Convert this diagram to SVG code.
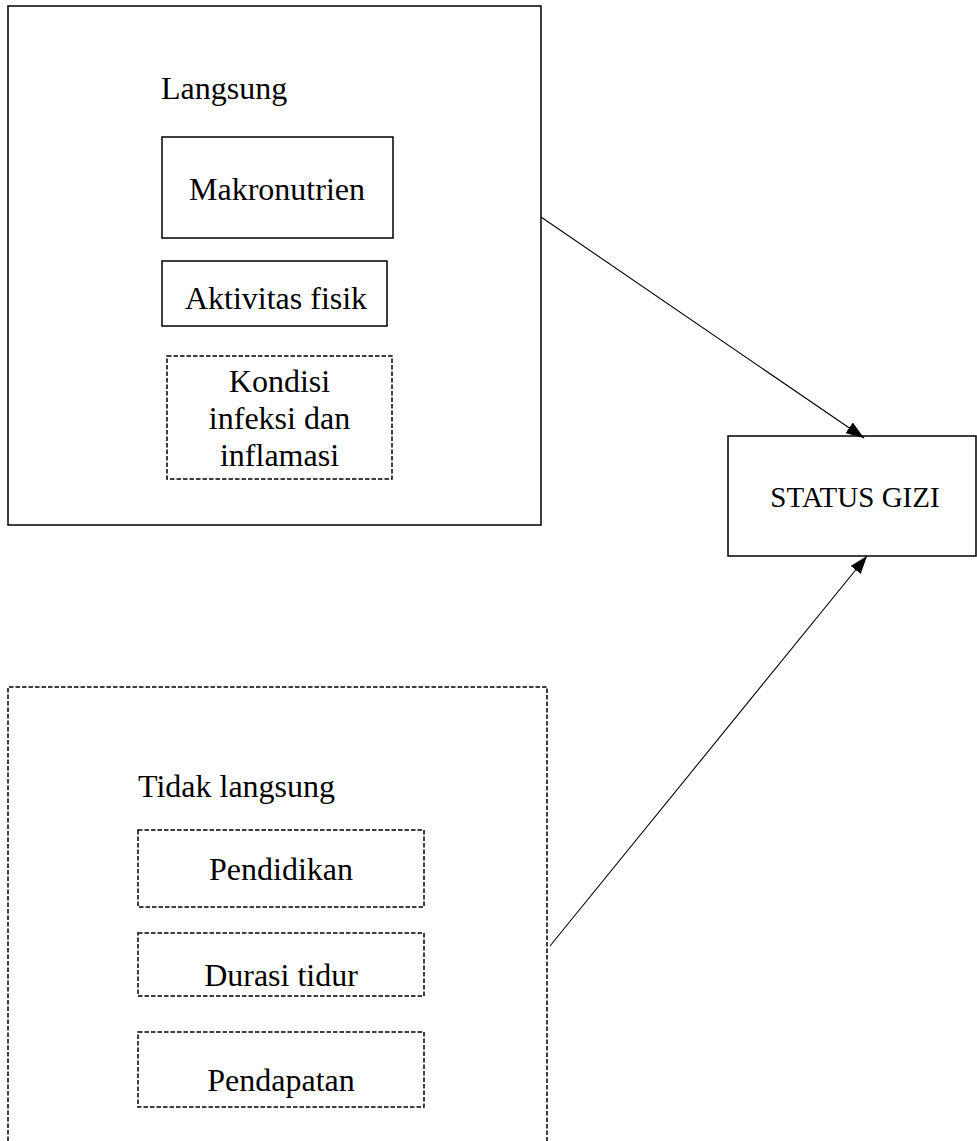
<svg xmlns="http://www.w3.org/2000/svg" width="977" height="1141" viewBox="0 0 977 1141">
  <style>
    .solid { fill: none; stroke: #000; stroke-width: 1.5; }
    .dash { fill: none; stroke: #000; stroke-width: 1.5; stroke-dasharray: 4.5 2; }
    .t { font-family: "Liberation Serif", "Times New Roman", serif; font-size: 32px; fill: #000; }
    .c { text-anchor: middle; }
    .conn { stroke: #000; stroke-width: 1.1; fill: none; }
  </style>
  <defs>
    <marker id="arrow" viewBox="0 0 18 13" refX="18" refY="6.5" markerWidth="18" markerHeight="13" markerUnits="userSpaceOnUse" orient="auto">
      <path d="M0,0 L18,6.5 L0,13 Z" fill="#000"/>
    </marker>
  </defs>
  <rect width="977" height="1141" fill="#fff"/>

  <g id="langsung">
    <rect class="solid" x="8" y="6" width="533" height="519"/>
    <text class="t" x="161" y="99">Langsung</text>
  </g>
  <g id="makronutrien">
    <rect class="solid" x="162" y="137" width="231" height="101"/>
    <text class="t c" x="277" y="200">Makronutrien</text>
  </g>
  <g id="aktivitas">
    <rect class="solid" x="162" y="261" width="225" height="65"/>
    <text class="t c" x="276" y="309">Aktivitas fisik</text>
  </g>
  <g id="kondisi">
    <rect class="dash" x="167" y="356" width="225" height="123"/>
    <text class="t c" x="279.5" y="392">Kondisi</text>
    <text class="t c" x="279.5" y="429">infeksi dan</text>
    <text class="t c" x="279.5" y="466">inflamasi</text>
  </g>

  <g id="status-gizi">
    <rect class="solid" x="728" y="436" width="248" height="120"/>
    <text class="t c" x="855" y="507" style="font-size:29px">STATUS GIZI</text>
  </g>

  <g id="tidak-langsung">
    <path class="dash" d="M8,1141 V687 H547 V1141"/>
    <text class="t" x="138" y="797">Tidak langsung</text>
  </g>
  <g id="pendidikan">
    <rect class="dash" x="138" y="830" width="286" height="77"/>
    <text class="t c" x="281" y="880">Pendidikan</text>
  </g>
  <g id="durasi">
    <rect class="dash" x="138" y="933" width="286" height="63"/>
    <text class="t c" x="281" y="986">Durasi tidur</text>
  </g>
  <g id="pendapatan">
    <rect class="dash" x="138" y="1032" width="286" height="75"/>
    <text class="t c" x="281" y="1091">Pendapatan</text>
  </g>

  <g id="connectors">
    <line class="conn" x1="541" y1="217" x2="864" y2="438" marker-end="url(#arrow)"/>
    <line class="conn" x1="550" y1="946" x2="867" y2="556" marker-end="url(#arrow)"/>
  </g>
</svg>
